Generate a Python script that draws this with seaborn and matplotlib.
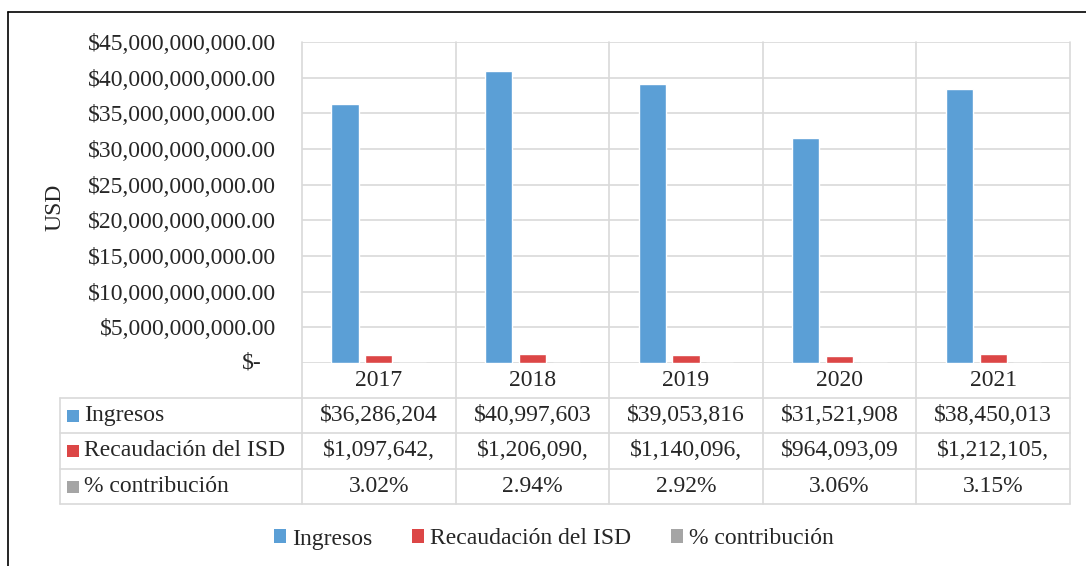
import pandas as pd
import seaborn as sns
import matplotlib.pyplot as plt
from matplotlib.lines import Line2D
from matplotlib.patches import Patch, Rectangle
from matplotlib.ticker import FuncFormatter
import matplotlib.transforms as mtransforms

# 資料
years = ['2017', '2018', '2019', '2020', '2021']
ingresos = [36_286_204_000, 40_997_603_000, 39_053_816_000, 31_521_908_000, 38_450_013_000]
recaudacion = [1_097_642_000, 1_206_090_000, 1_140_096_000, 964_093_090, 1_212_105_000]
contribucion = [r / i for r, i in zip(recaudacion, ingresos)]
series = ['Ingresos', 'Recaudación del ISD', '% contribución']
colores = ['#5B9FD6', '#DC4646', '#A5A5A5']

df = pd.DataFrame({
    'year': years * 3,
    'serie': [s for s in series for _ in years],
    'value': ingresos + recaudacion + contribucion,
})

sns.set_theme(style="white")
plt.rcParams['font.family'] = ['Liberation Serif', 'DejaVu Serif']

W, H = 1086, 566
fig = plt.figure(figsize=(W / 100, H / 100), dpi=100)

def fx(px):
    return px / W

def fy(py):
    return 1 - py / H

# 圖區位置 (像素)
left, right, top, bottom = 302, 1070, 42, 363
ax = fig.add_axes([fx(left), fy(bottom), fx(right - left), fy(top) - fy(bottom)])

sns.barplot(data=df, x='year', y='value', hue='serie', palette=colores,
            width=0.66, gap=0.2, saturation=1, legend=False, ax=ax)

ax.set_xlim(-0.5, len(years) - 0.5)
ax.set_ylim(0, 45e9)
ax.set_yticks([i * 5e9 for i in range(10)])
ax.yaxis.set_major_formatter(FuncFormatter(lambda v, p: '' if v == 0 else f'${v:,.2f}'))
ax.tick_params(axis='y', length=0, pad=18.7, labelsize=17)
ax.tick_params(axis='x', length=0, labelbottom=False)
ax.set_xlabel('')
ax.set_ylabel('')
ax.yaxis.grid(True, color='#D9D9D9', lw=1.2)
ax.xaxis.grid(False)
for s in ax.spines.values():
    s.set_visible(False)

grid_c = '#D9D9D9'
lw = 1.2
bt = mtransforms.blended_transform_factory(ax.transData, fig.transFigure)
yt = mtransforms.blended_transform_factory(fig.transFigure, ax.transData)

# 零值標籤
fig.text(fx(262), 0, '$-', transform=yt, ha='right', va='center', fontsize=17)

# 資料表格線
row_y = [363, 398, 433, 469, 504]
for i in range(len(years) + 1):
    fig.add_artist(Line2D([i - 0.5, i - 0.5], [fy(top), fy(row_y[-1])],
                          transform=bt, color=grid_c, lw=lw))
for py in row_y[1:]:
    fig.add_artist(Line2D([fx(60), fx(right)], [fy(py), fy(py)], color=grid_c, lw=lw))
fig.add_artist(Line2D([fx(60), fx(60)], [fy(row_y[1]), fy(row_y[-1])], color=grid_c, lw=lw))

# 表格文字
for i, y in enumerate(years):
    fig.text(i, fy((row_y[0] + row_y[1]) / 2), y, transform=bt,
             ha='center', va='center', fontsize=17)

filas = [
    [f'${v:,.2f}'[:11] for v in ingresos],
    [f'${v:,.2f}'[:11] for v in recaudacion],
    [f'{v:.2%}' for v in contribucion],
]
for r, (nombre, color, textos) in enumerate(zip(series, colores, filas)):
    yc = fy((row_y[r + 1] + row_y[r + 2]) / 2)
    fig.add_artist(Rectangle((fx(67), yc - 6 / H), 12 / W, 12 / H,
                             transform=fig.transFigure, color=color, lw=0))
    fig.text(fx(84), yc, nombre, ha='left', va='center', fontsize=17)
    for i, t in enumerate(textos):
        fig.text(i, yc, t, transform=bt, ha='center', va='center', fontsize=17)

# Y 軸標題
fig.text(fx(55), fy(207), 'USD', rotation=90, ha='center', va='center', fontsize=17)

# 圖例
handles = [Patch(color=c, lw=0) for c in colores]
fig.legend(handles, series, loc='center', bbox_to_anchor=(fx(554), fy(539)), ncol=3,
           frameon=False, fontsize=17, handlelength=0.5, handleheight=0.5,
           handletextpad=0.25, columnspacing=1.7)

# 外框
fig.add_artist(Line2D([fx(8), fx(8)], [fy(12), 0], color='black', lw=1.2))
fig.add_artist(Line2D([fx(8), 1], [fy(12), fy(12)], color='black', lw=1.2))

plt.savefig('out.png', dpi=100)
plt.close()
